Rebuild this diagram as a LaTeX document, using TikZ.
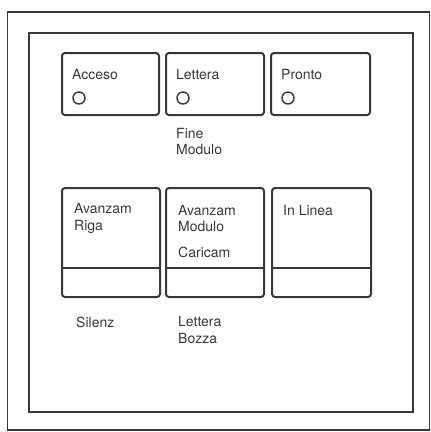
\documentclass[tikz,border=0pt]{standalone}
\usepackage{fontspec}
\setmainfont{TeX Gyre Heros}
\usetikzlibrary{positioning}
\definecolor{ink}{HTML}{383838}
\tikzset{
  frame/.style={draw=ink, line width=1.6pt},
  panel/.style={draw=ink, line width=2pt, rounded corners=3pt},
  lamp/.style={draw=ink, line width=1.4pt},
  lbl/.style={anchor=west, inner sep=0pt, text=ink, align=left,
    font=\fontsize{14}{16.5}\selectfont},
}
\begin{document}
\begin{tikzpicture}[x=1pt, y=-1pt]
  \useasboundingbox (0,0) rectangle (431,432);
  % Coordinates
  \coordinate (O1) at (7.5,12);
  \coordinate (O2) at (429.5,430);
  \coordinate (I1) at (29,33);
  \coordinate (I2) at (413,412);
  \coordinate (A1) at (62,53);
  \coordinate (A2) at (159,115);
  \coordinate (B1) at (166,53);
  \coordinate (B2) at (264,115);
  \coordinate (C1) at (271,53);
  \coordinate (C2) at (370,115);
  \coordinate (D1) at (62,188);
  \coordinate (D2) at (160,297);
  \coordinate (E1) at (166,188);
  \coordinate (E2) at (264,297);
  \coordinate (F1) at (272,188);
  \coordinate (F2) at (371,297);

  % Frames
  \draw[frame] (O1) rectangle (O2);
  \draw[frame, line width=2pt] (I1) rectangle (I2);

  % Top row
  \draw[panel] (A1) rectangle (A2);
  \draw[panel] (B1) rectangle (B2);
  \draw[panel] (C1) rectangle (C2);
  \node[lbl] (acceso) at (72,74) {Acceso};
  \node[lbl] (lettera) at (176,74) {Lettera};
  \node[lbl] (pronto) at (281,74) {Pronto};
  \draw[lamp] (79,98) circle (6pt);
  \draw[lamp] (183,98) circle (6pt);
  \draw[lamp] (288,98) circle (6pt);
  \node[lbl] (finemod) at (176,141.5) {Fine\\Modulo};

  % Bottom row
  \draw[panel] (D1) rectangle (D2);
  \draw[panel] (E1) rectangle (E2);
  \draw[panel] (F1) rectangle (F2);
  \draw[panel] (62,268) -- (160,268);
  \draw[panel] (166,268) -- (264,268);
  \draw[panel] (272,268) -- (371,268);
  \node[lbl] (avriga) at (74,218.5) {Avanzam\\Riga};
  \node[lbl] (avmod) at (178,218.5) {Avanzam\\Modulo};
  \node[lbl] (caricam) at (178,252) {Caricam};
  \node[lbl] (inlinea) at (283,210) {In Linea};
  \node[lbl] (silenz) at (76,322) {Silenz};
  \node[lbl] (bozza) at (178,330) {Lettera\\Bozza};
\end{tikzpicture}
\end{document}
